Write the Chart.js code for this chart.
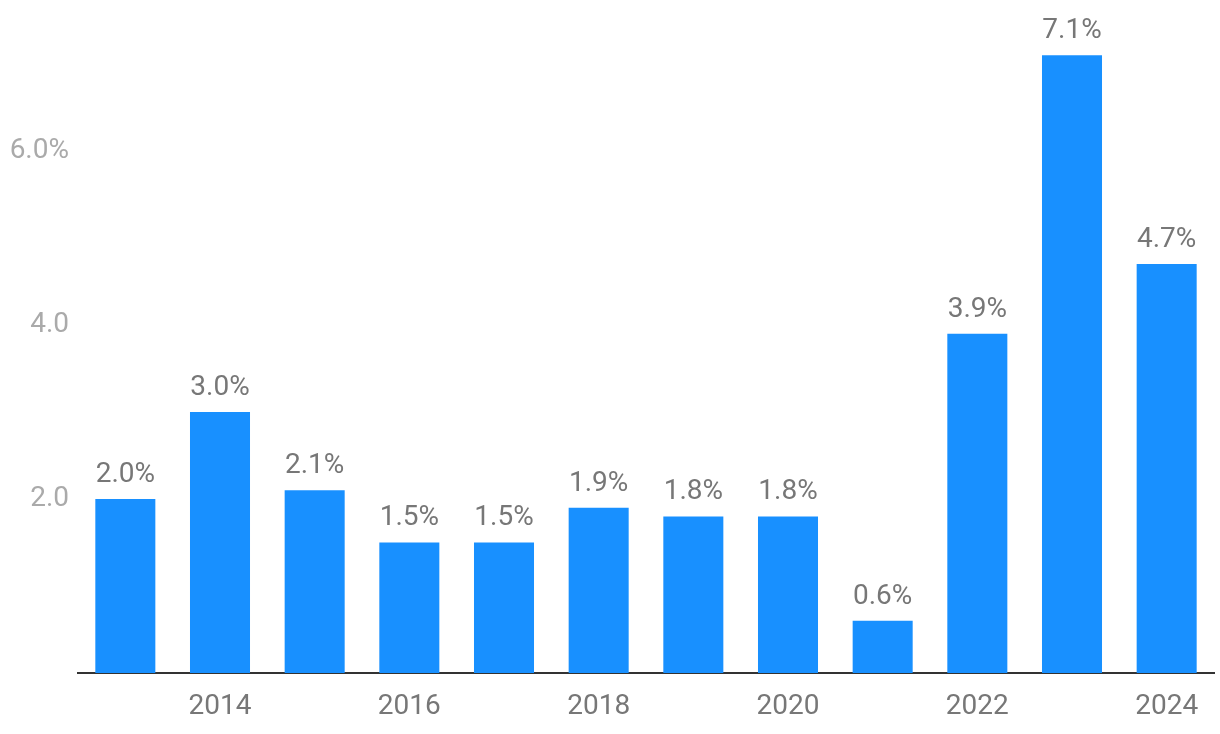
<!DOCTYPE html>
<html>
<head>
<meta charset="utf-8">
<script src="https://cdn.jsdelivr.net/npm/chart.js@4/dist/chart.umd.min.js"></script>
<style>
  html, body { margin: 0; padding: 0; background: #fff; }
  #wrap { width: 1220px; height: 734px; }
</style>
</head>
<body>
<div id="wrap"><canvas id="myChart"></canvas></div>
<script>
const years = ["2013", "2014", "2015", "2016", "2017", "2018", "2019", "2020", "2021", "2022", "2023", "2024"];
const valores = [2.0, 3.0, 2.1, 1.5, 1.5, 1.9, 1.8, 1.8, 0.6, 3.9, 7.1, 4.7];
const yTicks = [2, 4, 6];

Chart.defaults.font.family = "Roboto";
Chart.defaults.font.size = 28;

// etiquetas encima de cada barra
const etiquetas = {
  id: "etiquetas",
  afterDatasetsDraw(chart) {
    const ctx = chart.ctx;
    const meta = chart.getDatasetMeta(0);
    ctx.save();
    ctx.font = "28px Roboto";
    ctx.fillStyle = "#777777";
    ctx.textAlign = "center";
    ctx.textBaseline = "bottom";
    meta.data.forEach((bar, i) => {
      ctx.fillText(valores[i].toFixed(1) + "%", bar.x, bar.y - 10);
    });
    ctx.restore();
  }
};

const config = {
  type: "bar",
  data: {
    labels: years,
    datasets: [{
      data: valores,
      backgroundColor: "#1890ff",
      categoryPercentage: 0.634,
      barPercentage: 1
    }]
  },
  options: {
    responsive: true,
    maintainAspectRatio: false,
    animation: false,
    layout: { padding: { top: 0, right: 6, left: 0, bottom: 0 } },
    plugins: { legend: { display: false }, tooltip: { enabled: false } },
    scales: {
      x: {
        grid: { display: false },
        border: { display: true, color: "#333333", width: 2 },
        ticks: {
          color: "#777777",
          padding: 9,
          maxRotation: 0,
          autoSkip: false,
          callback: (v, i) => (Number(years[i]) % 2 === 0 ? years[i] : "")
        },
        afterFit: (scale) => { scale.height = 61; }
      },
      y: {
        min: 0,
        max: 7.53,
        grid: { display: false },
        border: { display: false },
        afterBuildTicks: (scale) => { scale.ticks = yTicks.map((v) => ({ value: v })); },
        ticks: {
          color: "#aaaaaa",
          padding: 1,
          callback: (v) => (v === 6 ? v.toFixed(1) + "%" : v.toFixed(1))
        },
        afterFit: (scale) => { scale.width = 78; }
      }
    }
  },
  plugins: [etiquetas]
};

new Chart(document.getElementById("myChart"), config);
</script>
</body>
</html>
